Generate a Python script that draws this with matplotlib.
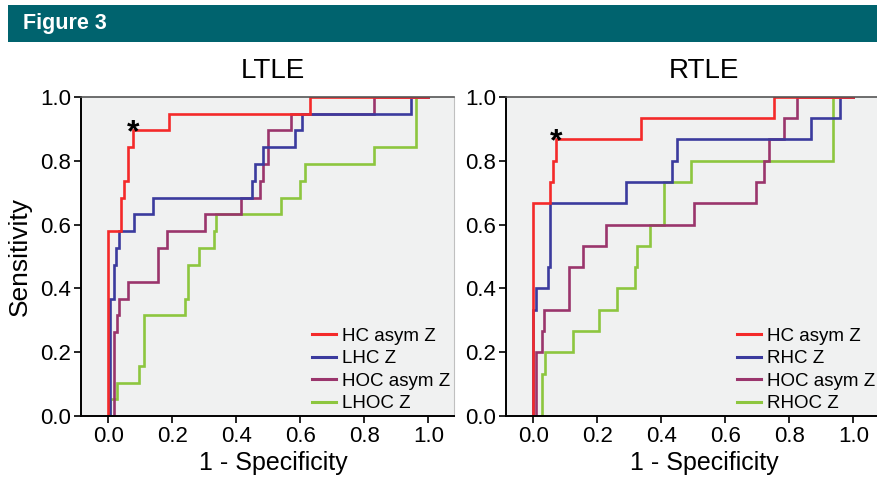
import matplotlib
matplotlib.use('Agg')
from matplotlib import pyplot as plt
from matplotlib.patches import Rectangle

# ROC corner points: at each fpr the curve climbs to the given tpr
# LTLE panel
ltle_hc_fpr = [0, 0, 0.040, 0.048, 0.062, 0.077, 0.19, 0.63, 1.0]
ltle_hc_tpr = [0, 0.579, 0.684, 0.737, 0.842, 0.895, 0.947, 1.0, 1.0]

ltle_lhc_fpr = [0.006, 0.006, 0.017, 0.025, 0.035, 0.079, 0.14, 0.449, 0.458, 0.484, 0.584, 0.606, 0.947, 1.0]
ltle_lhc_tpr = [0, 0.368, 0.474, 0.526, 0.579, 0.632, 0.684, 0.737, 0.789, 0.842, 0.895, 0.947, 1.0, 1.0]

ltle_hoc_fpr = [0.017, 0.017, 0.027, 0.035, 0.063, 0.155, 0.183, 0.303, 0.415, 0.475, 0.485, 0.50, 0.57, 0.83, 1.0]
ltle_hoc_tpr = [0, 0.263, 0.316, 0.368, 0.421, 0.526, 0.579, 0.632, 0.684, 0.737, 0.789, 0.895, 0.947, 1.0, 1.0]

ltle_lhoc_fpr = [0.005, 0.005, 0.027, 0.097, 0.1125, 0.24, 0.248, 0.282, 0.329, 0.336, 0.54, 0.60, 0.616, 0.831, 0.96, 1.0]
ltle_lhoc_tpr = [0, 0.053, 0.105, 0.158, 0.316, 0.368, 0.474, 0.526, 0.579, 0.632, 0.684, 0.737, 0.789, 0.842, 1.0, 1.0]

# RTLE panel
rtle_hc_fpr = [0, 0, 0.052, 0.063, 0.071, 0.338, 0.753, 1.0]
rtle_hc_tpr = [0, 0.667, 0.733, 0.8, 0.867, 0.933, 1.0, 1.0]

rtle_rhc_fpr = [0, 0, 0.008, 0.045, 0.052, 0.29, 0.434, 0.45, 0.868, 0.957, 1.0]
rtle_rhc_tpr = [0, 0.333, 0.4, 0.467, 0.667, 0.733, 0.8, 0.867, 0.933, 1.0, 1.0]

rtle_hoc_fpr = [0.008, 0.008, 0.026, 0.035, 0.113, 0.157, 0.228, 0.503, 0.696, 0.721, 0.737, 0.782, 0.823, 1.0]
rtle_hoc_tpr = [0, 0.2, 0.267, 0.333, 0.467, 0.533, 0.6, 0.667, 0.733, 0.8, 0.867, 0.933, 1.0, 1.0]

rtle_rhoc_fpr = [0.027, 0.027, 0.037, 0.125, 0.204, 0.262, 0.317, 0.325, 0.364, 0.408, 0.494, 0.936, 1.0]
rtle_rhoc_tpr = [0, 0.133, 0.2, 0.267, 0.333, 0.4, 0.467, 0.533, 0.6, 0.733, 0.8, 1.0, 1.0]

# asterisk = selected cut-off on the HC asym Z curve
ltle_star = (0.077, 0.895)
rtle_star = (0.071, 0.867)

ticks = [0.0, 0.2, 0.4, 0.6, 0.8, 1.0]
tick_labels = ['0.0', '0.2', '0.4', '0.6', '0.8', '1.0']

RED = '#f42a2a'
BLUE = '#3b3b9e'
PURPLE = '#9a356c'
GREEN = '#8dc63f'

plt.rcParams['font.family'] = ['Liberation Sans', 'DejaVu Sans']

fig = plt.figure(figsize=(8.78, 4.79), dpi=100)
W, H = 878, 479

# teal header bar
fig.patches.append(Rectangle((8 / W, 1 - 42 / H), 1, 37 / H, transform=fig.transFigure,
                             facecolor='#00636e', edgecolor='none', zorder=0))
fig.text(23 / W, 1 - 24 / H, 'Figure 3', color='white', fontsize=15.5, fontweight='bold',
         va='center', ha='left')


def make_panel(left_px, title, title_x, curves, labels, star):
    ax = fig.add_axes([left_px / W, 1 - 416 / H, 373 / W, 319 / H])
    ax.set_facecolor('#f0f1f1')
    # draw back-to-front so red ends up on top
    for (fpr, tpr, col) in reversed(curves):
        ax.step(fpr, tpr, where='post', color=col, lw=1.9, solid_joinstyle='miter')
    handles = [plt.Line2D([], [], color=c[2], lw=2.2) for c in curves]
    ax.legend(handles, labels, loc='lower right', frameon=False, fontsize=13.5,
              handlelength=1.3, handletextpad=0.3, labelspacing=0.29,
              borderaxespad=0.1, borderpad=0.1)
    ax.text(star[0], star[1] - 0.01, '*', fontsize=23, fontweight='bold', ha='center',
            va='center', color='black')
    ax.set_xlim(-0.085, 1.08)
    ax.set_ylim(0, 1.0)
    ax.set_xticks(ticks)
    ax.set_xticklabels(tick_labels, fontsize=16)
    ax.set_yticks(ticks)
    ax.set_yticklabels(tick_labels, fontsize=16)
    ax.tick_params(direction='out', length=5, width=1.2, pad=2)
    for s in ['left', 'bottom']:
        ax.spines[s].set_linewidth(1.4)
        ax.spines[s].set_color('black')
    ax.spines['top'].set_color('#555555')
    ax.spines['top'].set_linewidth(1.2)
    ax.spines['right'].set_color('#c0c0c0')
    ax.spines['right'].set_linewidth(0.8)
    fig.text(title_x / W, 1 - 71 / H, title, fontsize=20, ha='center', va='center')
    fig.text(title_x / W, 1 - 463 / H, '1 - Specificity', fontsize=18, ha='center', va='center')
    return ax


make_panel(81, 'LTLE', 273,
           [(ltle_hc_fpr, ltle_hc_tpr, RED), (ltle_lhc_fpr, ltle_lhc_tpr, BLUE),
            (ltle_hoc_fpr, ltle_hoc_tpr, PURPLE), (ltle_lhoc_fpr, ltle_lhoc_tpr, GREEN)],
           ['HC asym Z', 'LHC Z', 'HOC asym Z', 'LHOC Z'], ltle_star)
make_panel(506, 'RTLE', 704,
           [(rtle_hc_fpr, rtle_hc_tpr, RED), (rtle_rhc_fpr, rtle_rhc_tpr, BLUE),
            (rtle_hoc_fpr, rtle_hoc_tpr, PURPLE), (rtle_rhoc_fpr, rtle_rhoc_tpr, GREEN)],
           ['HC asym Z', 'RHC Z', 'HOC asym Z', 'RHOC Z'], rtle_star)

fig.text(20 / W, 1 - 256 / H, 'Sensitivity', fontsize=19, rotation=90,
         ha='center', va='center')

fig.savefig('out.png', dpi=100)
